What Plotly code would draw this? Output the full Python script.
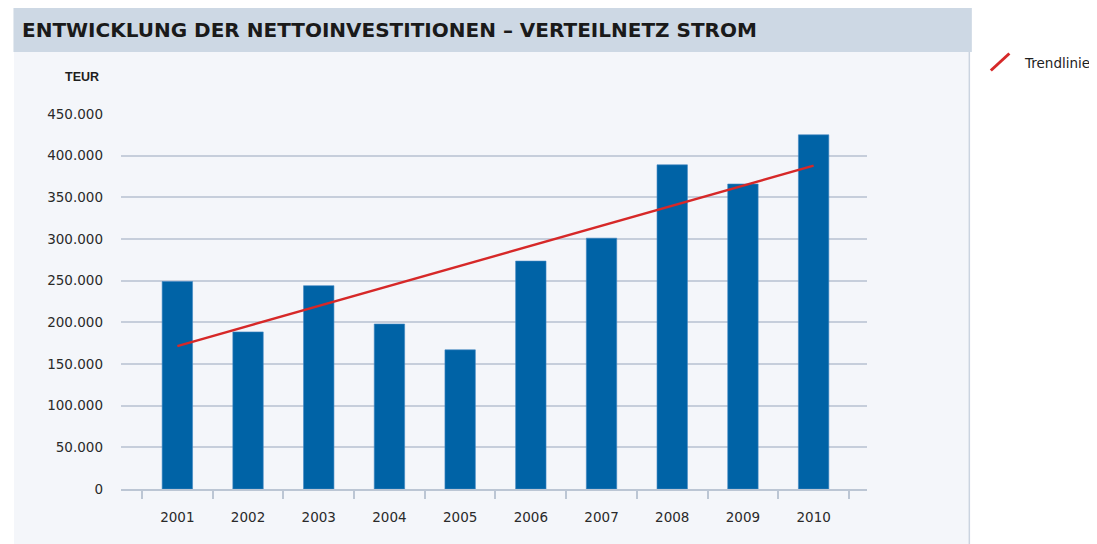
import plotly.graph_objects as go

# ---- data ----
years = ["2001", "2002", "2003", "2004", "2005", "2006", "2007", "2008", "2009", "2010"]
investments = [249000, 188500, 244000, 198000, 167000, 273500, 301000, 389000, 366000, 425000]
trend_years = ["2001", "2010"]
trend_values = [171500, 388000]
y_ticks = [0, 50000, 100000, 150000, 200000, 250000, 300000, 350000, 400000, 450000]

title_text = "ENTWICKLUNG DER NETTOINVESTITIONEN – VERTEILNETZ STROM"
unit_text = "TEUR"
legend_text = "Trendlinie"

# ---- layout geometry ----
# The page body has an 8px margin, so screen coordinates are shifted by OFF.
OFF = 8
W, H = 1097 - OFF, 544 - OFF
L, R_EDGE, T, B_EDGE = 121 - OFF, 866.7 - OFF, 114 - OFF, 489 - OFF


def px(x):
    x = x - OFF
    return (x - L) / (R_EDGE - L)


def py(y):
    y = y - OFF
    return (B_EDGE - y) / (B_EDGE - T)


x_idx = list(range(len(years)))
trend_idx = [years.index(y) for y in trend_years]

BAR = "#0063a6"
RED = "#d62828"
GRID = "#c6cedb"
TXT = "#2a2a2a"

fig = go.Figure()
fig.add_trace(go.Bar(
    x=x_idx, y=investments, width=0.43,
    marker=dict(color=BAR, line=dict(color="#3f86c2", width=0.6)),
    showlegend=False, hoverinfo="y",
))
fig.add_trace(go.Scatter(
    x=trend_idx, y=trend_values, mode="lines",
    line=dict(color=RED, width=2.4), showlegend=False,
))

shapes = [
    # panel background
    dict(type="rect", xref="paper", yref="paper", x0=px(14), x1=px(969), y0=py(560), y1=py(8),
         fillcolor="#f4f6fa", line=dict(width=0), layer="below"),
    # title band
    dict(type="rect", xref="paper", yref="paper", x0=px(13.5), x1=px(971.5), y0=py(52), y1=py(7.5),
         fillcolor="#cdd8e4", line=dict(width=0), layer="below"),
    # right border
    dict(type="line", xref="paper", yref="paper", x0=px(969), x1=px(969), y0=py(52), y1=py(560),
         line=dict(color="#cbd4e0", width=1.5), layer="below"),
    # legend symbol
    dict(type="line", xref="paper", yref="paper", x0=px(990.5), x1=px(1009), y0=py(70.5), y1=py(53.5),
         line=dict(color=RED, width=3)),
]

annotations = [
    dict(text=title_text, xref="paper", yref="paper", x=px(20), y=py(30), xanchor="left", yanchor="middle",
         showarrow=False, font=dict(family="DejaVu Sans", size=20, color="#1a1a1a", weight="bold")),
    dict(text=unit_text, xref="paper", yref="paper", x=px(101.5), y=py(77), xanchor="right", yanchor="middle",
         showarrow=False, font=dict(family="Liberation Sans", size=12.5, color="#1e1e1e", weight="bold")),
    dict(text=legend_text, xref="paper", yref="paper", x=px(1022), y=py(63), xanchor="left", yanchor="middle",
         showarrow=False, font=dict(family="DejaVu Sans", size=13.5, color="#1e1e1e")),
]

fig.update_layout(
    width=W, height=H,
    margin=dict(l=L, r=W - R_EDGE, t=T, b=H - B_EDGE, pad=0),
    paper_bgcolor="white", plot_bgcolor="rgba(0,0,0,0)",
    separators=",.",
    shapes=shapes, annotations=annotations,
    font=dict(family="DejaVu Sans", size=13.5, color=TXT),
)
fig.update_xaxes(
    range=[-0.797, 9.755], tickmode="array", tickvals=x_idx, ticktext=years,
    ticks="", showgrid=False, zeroline=False,
    showline=True, linecolor="#bcc6d4", linewidth=1.5,
    tickfont=dict(family="DejaVu Sans", size=13.5, color=TXT),
    ticklabelstandoff=15,
    minor=dict(tickmode="linear", tick0=-0.5, dtick=1, ticks="outside", ticklen=8,
               tickcolor="#bcc6d4", tickwidth=1.5, showgrid=False),
)
fig.update_yaxes(
    range=[0, 450000], tickmode="array", tickvals=y_ticks, tickformat=",d",
    ticks="", showgrid=True, gridcolor=GRID, gridwidth=1.5, zeroline=False,
    showline=False,
    tickfont=dict(family="DejaVu Sans", size=13.5, color=TXT),
    ticklabelstandoff=17,
)

fig.write_html("out.html")
